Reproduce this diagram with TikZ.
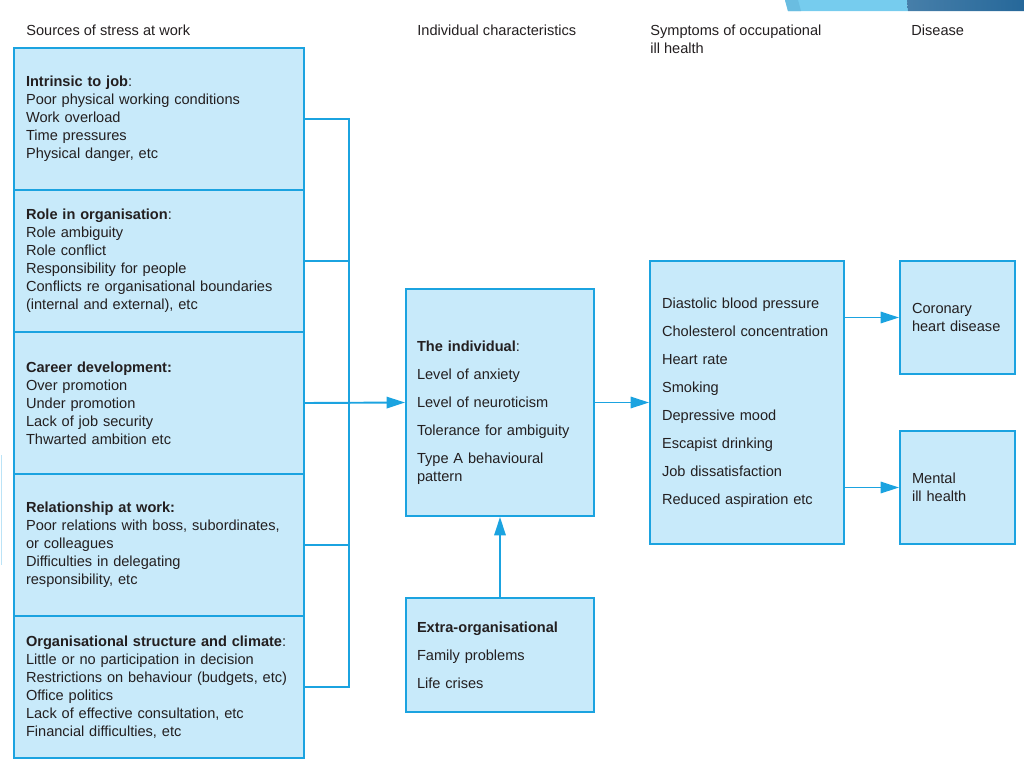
\documentclass[tikz,border=0pt]{standalone}
\usepackage{fontspec}
\setmainfont{Liberation Sans}
\usepackage{tikz}
\usetikzlibrary{arrows.meta}

\definecolor{boxfill}{RGB}{200,234,250}
\definecolor{boxline}{RGB}{27,163,224}
\definecolor{inktext}{RGB}{35,31,32}
\definecolor{bandlight}{RGB}{118,204,238}
\definecolor{banddark}{RGB}{38,104,154}
\hyphenpenalty=10000

\begin{document}
\begin{tikzpicture}[x=0.02cm,y=-0.02cm,>={Triangle[length=10.5pt,width=6.5pt]}]
% — styles ––––––––––––––––––––––––––
\tikzstyle{txt}     =[text=inktext,font=\fontsize{8.3}{10.2}\selectfont]
\tikzstyle{head}    =[txt,inner sep=0pt,anchor=north west,align=left]
\tikzstyle{stressbox}=[txt,draw=boxline,fill=boxfill,line width=1.1pt,inner ysep=0pt,align=left]
\tikzstyle{srcbox}  =[stressbox,minimum width=5.8cm,minimum height=2.84cm,inner xsep=0.24cm,text width=5.32cm]
\tikzstyle{midbox}  =[stressbox,minimum width=3.76cm,inner xsep=0.22cm,text width=3.32cm]
\tikzstyle{disbox}  =[stressbox,minimum width=2.3cm,minimum height=2.26cm,inner xsep=0.24cm,text width=1.82cm]
\tikzstyle{link}    =[boxline,line width=1.1pt]

\useasboundingbox (0,0) rectangle (1024,768);

% --- slide decoration -----------------------------------------
\fill[bandlight] (785,0) -- (907,0) -- (908,11) -- (788,11) -- cycle;
\fill[bandlight!85!banddark] (785,0) -- (798,0) -- (801,11) -- (788,11) -- cycle;
\shade[left color=banddark!85!white,right color=banddark] (907,0) -- (1024,0) -- (1024,11) -- (908,11) -- cycle;
\draw[boxline!30,line width=0.6pt] (1.5,455) -- (1.5,565);

% --- column headings ------------------------------------------
\node[head] (hsources) at (26,25)  {Sources of stress at work};
\node[head] (hindiv)   at (417,25) {Individual characteristics};
\node[head] (hsympt)   at (650,25) {Symptoms of occupational\\ill health};
\node[head] (hdisease) at (911,25) {Disease};

% --- sources of stress (left stack) ---------------------------
\node[srcbox] (intrinsic) at (159,119) {\textbf{Intrinsic to job}:\\Poor physical working conditions\\Work overload\\Time pressures\\Physical danger, etc};
\node[srcbox] (role) at (159,261) {\textbf{Role in organisation}:\\Role ambiguity\\Role conflict\\Responsibility for people\\Conflicts re organisational boundaries\\(internal and external), etc};
\node[srcbox] (career) at (159,403) {\textbf{Career development:}\\Over promotion\\Under promotion\\Lack of job security\\Thwarted ambition etc};
\node[srcbox] (relation) at (159,545) {\textbf{Relationship at work:}\\Poor relations with boss, subordinates,\\or colleagues\\Difficulties in delegating\\responsibility, etc};
\node[srcbox] (orgclimate) at (159,687) {\textbf{Organisational structure and climate}:\\Little or no participation in decision\\Restrictions on behaviour (budgets, etc)\\Office politics\\Lack of effective consultation, etc\\Financial difficulties, etc};

% --- individual and extra-organisational ----------------------
\node[midbox,minimum height=4.54cm] (indiv) at (500,402.5) {\rule{0pt}{17.5pt}\textbf{The individual}:\\[5.7pt]Level of anxiety\\[5.7pt]Level of neuroticism\\[5.7pt]Tolerance for ambiguity\\[5.7pt]Type A behavioural\\pattern};
\node[midbox,minimum height=2.28cm] (extraorg) at (500,655) {\textbf{Extra-organisational}\\[5.7pt]Family problems\\[5.7pt]Life crises};

% --- symptoms -------------------------------------------------
\node[stressbox,minimum width=3.88cm,minimum height=5.66cm,inner xsep=0.24cm,text width=3.4cm] (symptoms) at (747,402.5) {Diastolic blood pressure\\[5.7pt]Cholesterol concentration\\[5.7pt]Heart rate\\[5.7pt]Smoking\\[5.7pt]Depressive mood\\[5.7pt]Escapist drinking\\[5.7pt]Job dissatisfaction\\[5.7pt]Reduced aspiration etc};

% --- disease --------------------------------------------------
\node[disbox] (coronary) at (957.5,317.5) {Coronary\\heart disease};
\node[disbox] (mental)   at (957.5,487.5) {Mental\\ill health};

% --- connectors -----------------------------------------------
\coordinate (bus) at (349,403);
\draw[link] (intrinsic.east) -- (intrinsic.east -| bus) -- (orgclimate.east -| bus) -- (orgclimate.east);
\foreach \src in {role,relation}
  \draw[link] (\src.east) -- (\src.east -| bus);
\draw[link,->] (career.east) -- (indiv.west);
\draw[link,->] (extraorg.north) -- (indiv.south);
\draw[link,->] (indiv.east) -- (symptoms.west);
\draw[link,->] (coronary.west -| symptoms.east) -- (coronary.west);
\draw[link,->] (mental.west -| symptoms.east) -- (mental.west);

\end{tikzpicture}
\end{document}
